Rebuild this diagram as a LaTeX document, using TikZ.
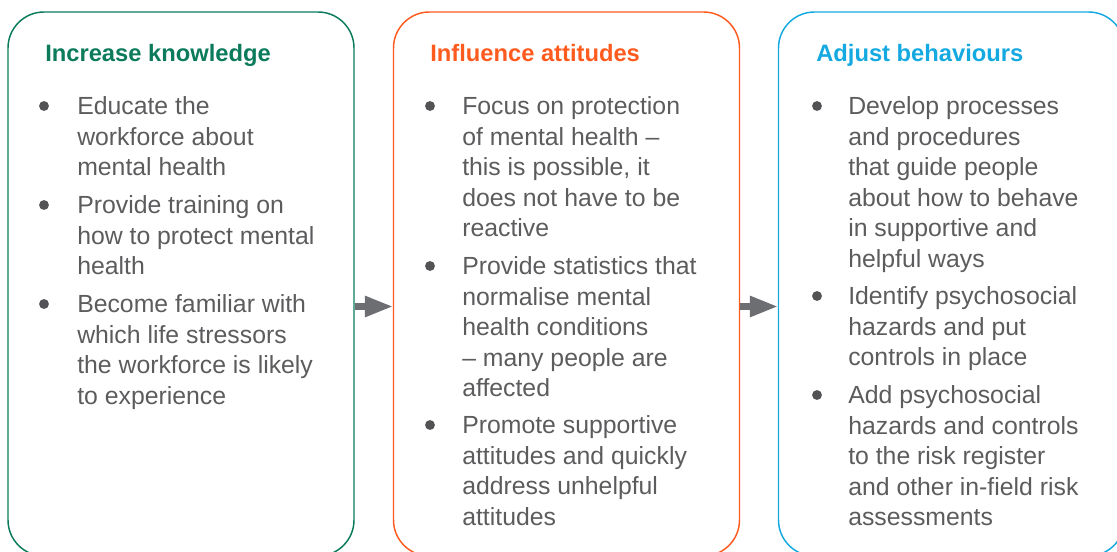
\documentclass[tikz,border=0pt]{standalone}
\usepackage{fontspec}
\setmainfont{Liberation Sans}
\usetikzlibrary{arrows.meta}

\definecolor{knowgreen}{HTML}{0B7B5C}
\definecolor{attorange}{HTML}{FF5B1F}
\definecolor{behblue}{HTML}{14A9E0}
\definecolor{bodygrey}{HTML}{5C5C5E}
\definecolor{arrowgrey}{HTML}{6D6E71}

\tikzset{
  stage/.style={draw=#1, line width=1.1pt, rounded corners=27pt,
    minimum width=259.5pt, minimum height=408pt, inner sep=0pt},
  heading/.style={text=#1, anchor=base west, inner sep=0pt,
    font=\fontsize{17.8}{21}\selectfont\bfseries},
  point/.style={anchor=north west, inner sep=0pt, align=left, text=bodygrey,
    font=\fontsize{18.6}{22.9}\selectfont, execute at begin node=\strut},
  bulletdot/.style={circle, fill=bodygrey!90!black, inner sep=0pt, minimum size=7.4pt},
  flow/.style={-{Triangle[length=21pt,width=15pt]}, line width=4.5pt, draw=arrowgrey},
}

\begin{document}
\begin{tikzpicture}[x=0.75pt,y=-0.75pt]
  \useasboundingbox (0,0) rectangle (1117,552);

  % the three stages
  \node[stage=knowgreen] (know) at (181,284)   {};
  \node[stage=attorange] (att)  at (566.5,284) {};
  \node[stage=behblue]   (beh)  at (951.5,284) {};

  \node[heading=knowgreen] (knowtitle) at (45,62)  {Increase knowledge};
  \node[heading=attorange] (atttitle)  at (430,62) {Influence attitudes};
  \node[heading=behblue]   (behtitle)  at (816,62) {Adjust behaviours};

  % knowledge
  \node[bulletdot] (k1dot) at (44,106)    {};
  \node[point]     (k1)    at (77,96.6)   {Educate the\\workforce about\\mental health};
  \node[bulletdot] (k2dot) at (44,205)    {};
  \node[point]     (k2)    at (77,195.6)  {Provide training on\\how to protect mental\\health};
  \node[bulletdot] (k3dot) at (44,304)    {};
  \node[point]     (k3)    at (77,294.6)  {Become familiar with\\which life stressors\\the workforce is likely\\to experience};

  % attitudes
  \node[bulletdot] (a1dot) at (430,106)   {};
  \node[point]     (a1)    at (462,96.6)  {Focus on protection\\of mental health --\\this is possible, it\\does not have to be\\reactive};
  \node[bulletdot] (a2dot) at (430,266)   {};
  \node[point]     (a2)    at (462,256.6) {Provide statistics that\\normalise mental\\health conditions\\-- many people are\\affected};
  \node[bulletdot] (a3dot) at (430,425)   {};
  \node[point]     (a3)    at (462,415.6) {Promote supportive\\attitudes and quickly\\address unhelpful\\attitudes};

  % behaviours
  \node[bulletdot] (b1dot) at (817,106)   {};
  \node[point]     (b1)    at (848,96.6)  {Develop processes\\and procedures\\that guide people\\about how to behave\\in supportive and\\helpful ways};
  \node[bulletdot] (b2dot) at (817,296)   {};
  \node[point]     (b2)    at (848,286.6) {Identify psychosocial\\hazards and put\\controls in place};
  \node[bulletdot] (b3dot) at (817,395)   {};
  \node[point]     (b3)    at (848,385.6) {Add psychosocial\\hazards and controls\\to the risk register\\and other in-field risk\\assessments};

  % arrows between stages
  \coordinate (mid) at (0,306.5);
  \draw[flow] (know.east |- mid) -- (att.west |- mid);
  \draw[flow] (att.east |- mid)  -- (beh.west |- mid);
\end{tikzpicture}
\end{document}
